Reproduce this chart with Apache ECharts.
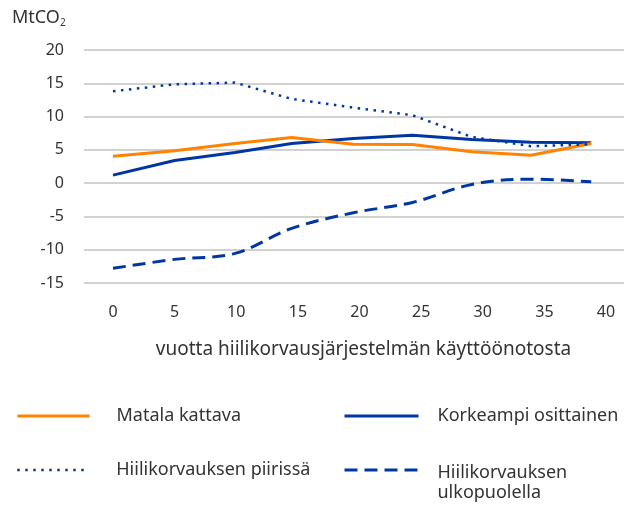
<!DOCTYPE html>
<html>
<head>
<meta charset="utf-8">
<script src="https://cdn.jsdelivr.net/npm/echarts@6/dist/echarts.min.js"></script>
<style>
  html, body { margin: 0; padding: 0; background: #fff; }
  #main { width: 624px; height: 505px; }
</style>
</head>
<body>
<div id="main"></div>
<script>
// vuodet käyttöönotosta (luettu kuvasta)
var years = [0, 5, 9.9, 14.5, 19.5, 24.3, 29.1, 33.9, 38.8];
var matalaKattava = [4.05, 4.85, 5.95, 6.85, 5.85, 5.8, 4.7, 4.2, 5.95];
var korkeampiOsittainen = [1.2, 3.4, 4.6, 5.95, 6.7, 7.2, 6.55, 6.15, 6.05];
var piirissa = [13.8, 14.85, 15.1, 12.65, 11.35, 10.2, 6.95, 5.55, 5.85];
var ulkopuolella = [-12.8, -11.45, -10.55, -6.8, -4.45, -2.9, -0.2, 0.6, 0.2];
var xTicks = [0, 40, 5];   // min, max, interval
var yTicks = [-15, 20, 5];

var ORANGE = '#ff8200';
var BLUE = '#0036a2';
var FONT = 'Noto Sans';

function pairs(ys) {
    var out = [];
    for (var i = 0; i < ys.length; i++) out.push([years[i], ys[i]]);
    return out;
}

// yksi legenda per sarja, jotta paikat saadaan kohdalleen
function legendAt(name, left, top, w, gap, lw) {
    return {
        data: [name],
        left: left,
        top: top,
        padding: 0,
        itemWidth: w,
        itemHeight: 14,
        selectedMode: false,
        itemStyle: { opacity: 0 },
        lineStyle: { width: lw },
        textStyle: {
            fontFamily: FONT, fontSize: 18, color: '#333', lineHeight: 20,
            padding: [0, 0, 0, gap]
        }
    };
}

var l4 = legendAt('Hiilikorvauksen ulkopuolella', 343, 437, 74, 14, 3);
// kaksirivinen teksti, ensimmäinen rivi ikonin tasolle
l4.formatter = function () { return '{e| }\n{t|Hiilikorvauksen}\n{t|ulkopuolella}'; };
l4.textStyle.rich = {
    e: { lineHeight: 26, fontSize: 10 },
    t: { fontFamily: FONT, fontSize: 18, color: '#333', lineHeight: 20 }
};

var myChart = echarts.init(document.getElementById('main'));

var option = {
    animation: false,
    title: {
        text: 'MtCO{s|2}',
        left: 12,
        top: 8,
        padding: 0,
        textStyle: {
            fontFamily: FONT, fontSize: 18, fontWeight: 'normal', color: '#333',
            rich: { s: { fontFamily: FONT, fontSize: 10, color: '#333', padding: [10, 0, 0, 0] } }
        }
    },
    legend: [
        legendAt('Matala kattava', 16, 406, 72, 22, 3),
        legendAt('Korkeampi osittainen', 343, 406, 74, 14, 3),
        legendAt('Hiilikorvauksen piirissä', 16, 460, 72, 22, 2.5),
        l4
    ],
    grid: [
        { left: 84, right: 0, top: 50, height: 233 },
        { left: 113, right: 18, top: 50, height: 233 }
    ],
    xAxis: [
        { gridIndex: 0, type: 'value', show: false, min: 0, max: 1 },
        {
            gridIndex: 1, type: 'value',
            min: xTicks[0], max: xTicks[1], interval: xTicks[2],
            axisLine: { show: false },
            axisTick: { show: false },
            splitLine: { show: false },
            axisLabel: { margin: 21, fontFamily: FONT, fontSize: 16, color: '#333' },
            name: 'vuotta hiilikorvausjärjestelmän käyttöönotosta',
            nameLocation: 'middle',
            nameGap: 57,
            nameTextStyle: { fontFamily: FONT, fontSize: 19, color: '#333', padding: [0, 0, 0, 8] }
        }
    ],
    yAxis: [
        {
            gridIndex: 0, type: 'value',
            min: yTicks[0], max: yTicks[1], interval: yTicks[2],
            axisLine: { show: false },
            axisTick: { show: false },
            axisLabel: { margin: 20, fontFamily: FONT, fontSize: 16, color: '#333' },
            splitLine: { lineStyle: { color: '#c2c2c2', width: 1.5 } }
        },
        {
            gridIndex: 1, type: 'value', show: false,
            min: yTicks[0], max: yTicks[1], interval: yTicks[2],
            splitLine: { show: false }
        }
    ],
    series: [
        {
            name: 'Korkeampi osittainen', type: 'line', xAxisIndex: 1, yAxisIndex: 1,
            data: pairs(korkeampiOsittainen), symbol: 'none',
            itemStyle: { color: BLUE },
            lineStyle: { color: BLUE, width: 3 }
        },
        {
            name: 'Matala kattava', type: 'line', xAxisIndex: 1, yAxisIndex: 1,
            data: pairs(matalaKattava), symbol: 'none',
            itemStyle: { color: ORANGE },
            lineStyle: { color: ORANGE, width: 3 }
        },
        {
            name: 'Hiilikorvauksen piirissä', type: 'line', xAxisIndex: 1, yAxisIndex: 1,
            data: pairs(piirissa), symbol: 'none',
            itemStyle: { color: BLUE },
            lineStyle: { color: BLUE, width: 2.5, type: [2.5, 5.5] }
        },
        {
            name: 'Hiilikorvauksen ulkopuolella', type: 'line', xAxisIndex: 1, yAxisIndex: 1,
            data: pairs(ulkopuolella), symbol: 'none', smooth: 0.35,
            itemStyle: { color: BLUE },
            lineStyle: { color: BLUE, width: 3, type: [13, 7] }
        }
    ]
};

myChart.setOption(option);
</script>
</body>
</html>
